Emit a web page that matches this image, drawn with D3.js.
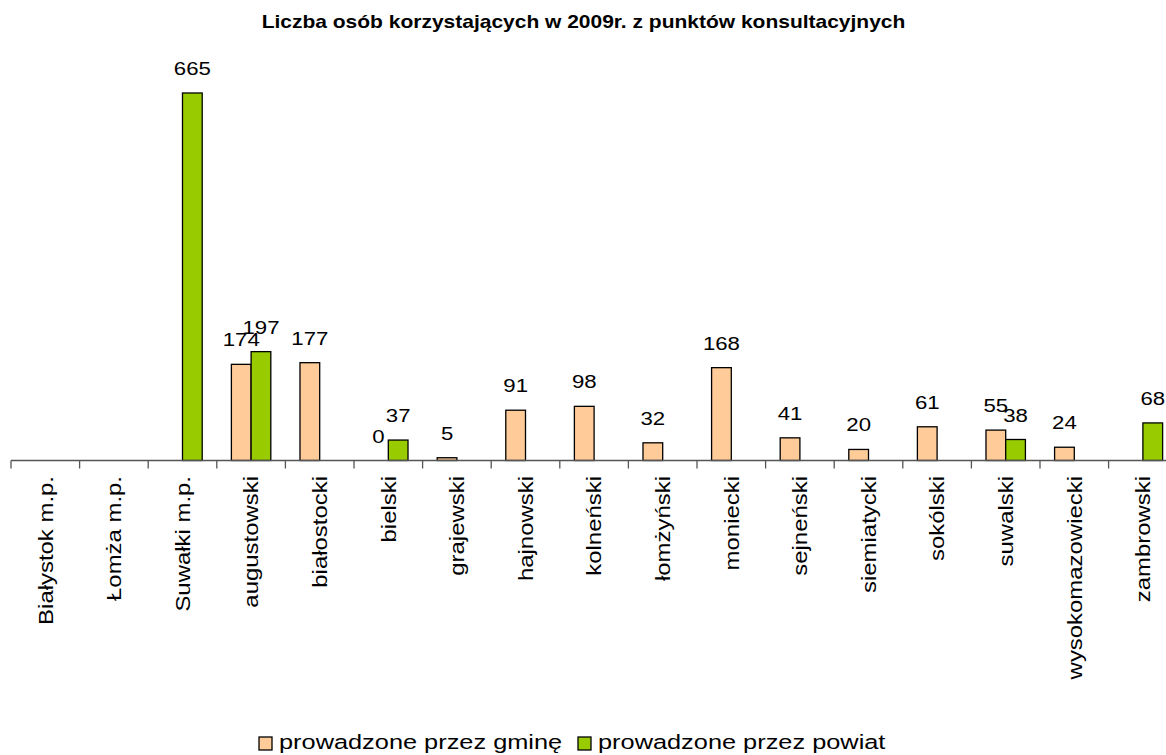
<!DOCTYPE html>
<html>
<head>
<meta charset="utf-8">
<script src="https://cdn.jsdelivr.net/npm/d3@7"></script>
<style>
  body { margin: 0; background: #fff; }
  svg text { font-family: Arial, "Liberation Sans", sans-serif; fill: #000; }
</style>
</head>
<body>
<script>
var categories = ["Białystok m.p.", "Łomża m.p.", "Suwałki m.p.", "augustowski", "białostocki",
  "bielski", "grajewski", "hajnowski", "kolneński", "łomżyński", "moniecki", "sejneński",
  "siemiatycki", "sokólski", "suwalski", "wysokomazowiecki", "zambrowski"];
var gmina  = [null, null, null, 174, 177, 0, 5, 91, 98, 32, 168, 41, 20, 61, 55, 24, null];
var powiat = [null, null, 665, 197, null, 37, null, null, null, null, null, null, null, null, 38, null, 68];
var seriesNames = ["prowadzone przez gminę", "prowadzone przez powiat"];
var colors = ["#FFCC99", "#99CC00"];
var title = "Liczba osób korzystających w 2009r. z punktów konsultacyjnych";

var width = 1166, height = 755;

var svg = d3.select("body").append("svg")
    .attr("width", width)
    .attr("height", height);

// rows: one per category, both series
var rows = categories.map(function(c, i) {
  return {cat: c, values: [gmina[i], powiat[i]]};
});

var x = d3.scaleBand().domain(categories).range([11, 11 + 17 * 68.6]);
var x1 = d3.scaleBand().domain([0, 1]).range([0, x.bandwidth()]).paddingOuter(0.74);
var y = d3.scaleLinear().domain([0, 665]).range([460.5, 93]);

// title
svg.append("text")
    .attr("transform", "translate(583.5,28) scale(1.2,1)")
    .attr("text-anchor", "middle")
    .style("font-size", "17.5px")
    .style("font-weight", "bold")
    .text(title);

var group = svg.selectAll(".cat")
    .data(rows)
    .enter().append("g")
    .attr("class", "cat")
    .attr("transform", function(d) { return "translate(" + x(d.cat) + ",0)"; });

var cells = group.selectAll(".bar")
    .data(function(d) {
      return d.values.map(function(v, j) { return {s: j, v: v}; })
        .filter(function(e) { return e.v != null; });
    })
    .enter();

cells.append("rect")
    .attr("x", function(d) { return x1(d.s); })
    .attr("y", function(d) { return y(d.v); })
    .attr("width", x1.bandwidth())
    .attr("height", function(d) { return y(0) - y(d.v); })
    .attr("fill", function(d) { return colors[d.s]; })
    .attr("stroke", "#000")
    .attr("stroke-width", 1.3);

cells.append("text")
    .attr("transform", function(d) {
      return "translate(" + (x1(d.s) + x1.bandwidth() / 2) + "," + (y(d.v) - 18) + ") scale(1.2,1)";
    })
    .attr("text-anchor", "middle")
    .style("font-size", "18.5px")
    .text(function(d) { return d.v; });

// category axis
var axis = svg.append("g").attr("class", "axis");
axis.append("line")
    .attr("x1", x.range()[0]).attr("x2", x.range()[1])
    .attr("y1", y(0)).attr("y2", y(0))
    .attr("stroke", "#555").attr("stroke-width", 1.3);

axis.selectAll(".tick")
    .data(categories)
    .enter().append("line")
    .attr("class", "tick")
    .attr("x1", function(d) { return x(d); })
    .attr("x2", function(d) { return x(d); })
    .attr("y1", y(0)).attr("y2", y(0) + 8)
    .attr("stroke", "#555").attr("stroke-width", 1.3);

axis.selectAll(".label")
    .data(categories)
    .enter().append("text")
    .attr("class", "label")
    .attr("transform", function(d) {
      return "translate(" + (x(d) + x.bandwidth() / 2) + ",476) rotate(-90) scale(1.14,1)";
    })
    .attr("text-anchor", "end")
    .attr("dy", "0.35em")
    .style("font-size", "21px")
    .text(function(d) { return d; });

// legend
var legendX = [259, 578];
var legend = svg.selectAll(".legend")
    .data(seriesNames)
    .enter().append("g")
    .attr("class", "legend")
    .attr("transform", function(d, i) { return "translate(" + legendX[i] + ",737)"; });

legend.append("rect")
    .attr("width", 13).attr("height", 13)
    .attr("fill", function(d, i) { return colors[i]; })
    .attr("stroke", "#000").attr("stroke-width", 1.3);

legend.append("text")
    .attr("transform", "translate(20,12) scale(1.3,1)")
    .style("font-size", "19.5px")
    .text(function(d) { return d; });
</script>
</body>
</html>
